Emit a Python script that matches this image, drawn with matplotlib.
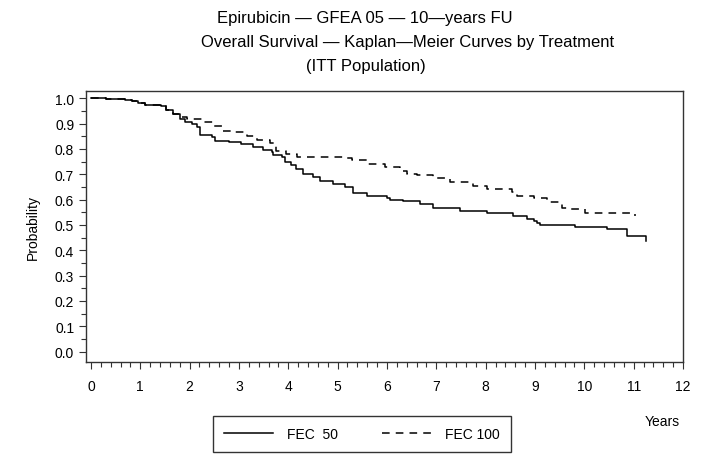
import numpy as np
import matplotlib
matplotlib.use("Agg")
import matplotlib.pyplot as plt
from matplotlib.ticker import MultipleLocator

plt.rcParams['font.family'] = ['Liberation Sans', 'DejaVu Sans']

# Kaplan-Meier step curves (years, survival probability)
fec50_t = [0, 0.3, 0.7, 0.83, 0.95, 1.1, 1.43, 1.53, 1.67, 1.8,
           1.9, 2.04, 2.14, 2.21, 2.45, 2.52, 2.8, 3.05, 3.29, 3.49,
           3.66, 3.7, 3.87, 3.94, 4.05, 4.15, 4.3, 4.5, 4.65, 4.9,
           5.15, 5.32, 5.59, 6.0, 6.06, 6.33, 6.67, 6.94, 7.48, 8.03,
           8.56, 8.84, 8.97, 9.04, 9.1, 9.82, 10.46, 10.87, 11.24]
fec50_s = [1.0, 0.997, 0.993, 0.99, 0.982, 0.975, 0.968, 0.955, 0.94, 0.918,
           0.905, 0.898, 0.885, 0.855, 0.848, 0.832, 0.828, 0.819, 0.806, 0.797,
           0.79, 0.775, 0.767, 0.75, 0.735, 0.72, 0.70, 0.688, 0.674, 0.661,
           0.648, 0.628, 0.615, 0.605, 0.599, 0.593, 0.582, 0.569, 0.556, 0.547,
           0.536, 0.523, 0.515, 0.508, 0.50, 0.494, 0.483, 0.455, 0.437]

fec100_t = [0, 0.3, 0.7, 0.83, 0.95, 1.1, 1.43, 1.53, 1.67, 1.8,
            1.95, 2.28, 2.5, 2.65, 2.9, 3.16, 3.36, 3.63, 3.76, 3.96,
            4.17, 5.1, 5.3, 5.59, 5.95, 6.27, 6.4, 6.6, 6.94, 7.28,
            7.75, 8.03, 8.53, 8.63, 8.97, 9.25, 9.55, 9.72, 10.02, 11.03]
fec100_s = [1.0, 0.997, 0.993, 0.99, 0.982, 0.975, 0.968, 0.955, 0.94, 0.925,
            0.92, 0.905, 0.892, 0.872, 0.866, 0.853, 0.834, 0.822, 0.793, 0.78,
            0.767, 0.765, 0.756, 0.74, 0.727, 0.714, 0.70, 0.696, 0.684, 0.67,
            0.655, 0.644, 0.631, 0.615, 0.605, 0.589, 0.569, 0.562, 0.549, 0.534]

labels = ["FEC  50", "FEC 100"]
title_lines = ["Epirubicin — GFEA 05 — 10—years FU",
               "Overall Survival — Kaplan—Meier Curves by Treatment",
               "(ITT Population)"]

W, H = 710, 464
fig = plt.figure(figsize=(W / 100, H / 100), dpi=100)
ax = fig.add_axes([86 / W, 1 - 363 / H, (683 - 86) / W, (363 - 92) / H])

ax.step(fec50_t, fec50_s, where='post', color='black', lw=1.1, label=labels[0])
ax.step(fec100_t, fec100_s, where='post', color='black', lw=1.1,
        dashes=(5, 4), label=labels[1])

ax.set_xlim(-0.1, 12.0)
ax.set_ylim(-0.041, 1.029)
ax.xaxis.set_major_locator(MultipleLocator(1))
ax.xaxis.set_minor_locator(MultipleLocator(0.2))
ax.yaxis.set_major_locator(MultipleLocator(0.1))
ax.yaxis.set_minor_locator(MultipleLocator(0.05))
ax.set_yticklabels([f"{v:.1f}" for v in ax.get_yticks()])
ax.tick_params(which='major', direction='out', length=5, width=0.8,
               labelsize=10, color='#333333')
ax.tick_params(which='minor', direction='out', length=3.5, width=0.8,
               color='#333333')
ax.tick_params(axis='x', pad=7)
for s in ax.spines.values():
    s.set_linewidth(1.0)
    s.set_color('#333333')

ax.set_ylabel("Probability", fontsize=10, labelpad=11)
fig.text(662 / W, 1 - 422 / H, "Years", fontsize=10, ha='center', va='center')

# title, three lines
centers = [365, 408, 366]
ys = [19, 43, 66]
for line, cx, cy in zip(title_lines, centers, ys):
    fig.text(cx / W, 1 - cy / H, line, fontsize=12, ha='center', va='center')

leg = fig.legend(loc='center', bbox_to_anchor=(362 / W, 1 - 435 / H),
                 ncol=2, fontsize=10, handlelength=3.5, columnspacing=3.2,
                 handletextpad=1.0, fancybox=False, edgecolor='black',
                 borderpad=0.8, borderaxespad=0)
leg.get_frame().set_linewidth(1.0)

fig.savefig("out.png", dpi=100)
